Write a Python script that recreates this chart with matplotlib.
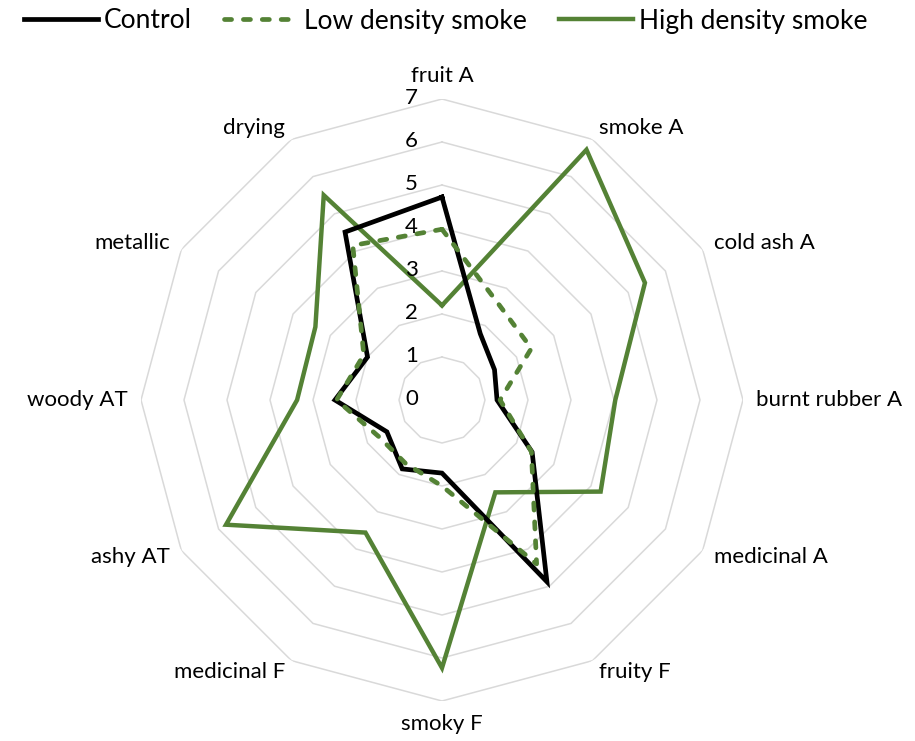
import numpy as np
import matplotlib
matplotlib.use("Agg")
import matplotlib.pyplot as plt
from matplotlib.transforms import offset_copy

plt.rcParams['font.family'] = ['Lato', 'DejaVu Sans']

categories = ["fruit A", "smoke A", "cold ash A", "burnt rubber A", "medicinal A",
              "fruity F", "smoky F", "medicinal F", "ashy AT", "woody AT",
              "metallic", "drying"]
control = [4.72, 1.78, 1.41, 1.28, 2.42, 4.88, 1.70, 1.85, 1.48, 2.49, 2.0, 4.51]
low_smoke = [3.97, 2.6, 2.4, 1.35, 2.4, 4.4, 2.0, 1.7, 1.7, 2.45, 2.1, 4.15]
high_smoke = [2.2, 6.72, 5.45, 4.03, 4.26, 2.48, 6.23, 3.56, 5.8, 3.37, 3.4, 5.5]
r_ticks = [0, 1, 2, 3, 4, 5, 6, 7]
series_names = ["Control", "Low density smoke", "High density smoke"]

W, H = 915, 741
fig = plt.figure(figsize=(W / 100, H / 100), dpi=100)
cx, cy, R = 442, 400, 301
ax = fig.add_axes([(cx - R) / W, (H - cy - R) / H, 2 * R / W, 2 * R / H], projection='polar')
ax.set_theta_zero_location('N')
ax.set_theta_direction(-1)
ax.set_ylim(0, 7)
ax.grid(False)
ax.spines['polar'].set_visible(False)
ax.set_xticks([])
ax.set_yticks([])
ax.patch.set_alpha(0)

n = len(categories)
theta = np.arange(n) * 2 * np.pi / n
theta_c = np.append(theta, theta[0])

grid_col = '#D9D9D9'
for k in r_ticks[1:]:
    ax.plot(theta_c, [k] * (n + 1), color=grid_col, lw=1.1, zorder=1)

green = '#548235'
def closed(v):
    return list(v) + [v[0]]

l1, = ax.plot(theta_c, closed(control), color='black', lw=3.4, zorder=4,
              solid_joinstyle='miter', label=series_names[0])
l2, = ax.plot(theta_c, closed(low_smoke), color=green, lw=3.4, zorder=5,
              linestyle=(0, (1.5, 2.5)), dash_capstyle='round', label=series_names[1])
l3, = ax.plot(theta_c, closed(high_smoke), color=green, lw=3.2, zorder=3,
              solid_joinstyle='miter', label=series_names[2])

# radial tick labels
tr = offset_copy(ax.transData, fig=fig, x=-24, y=1, units='dots')
for k in r_ticks:
    ax.text(0, k, str(k), transform=tr, ha='right', va='center', fontsize=16,
            color='#000000', zorder=6)

# category labels
for t, lab in zip(theta, categories):
    s = np.sin(t)
    c = np.cos(t)
    if abs(s) < 1e-6:
        ha = 'center'
        va = 'bottom' if c > 0 else 'top'
    else:
        ha = 'left' if s > 0 else 'right'
        va = 'center'
    ax.text(t, 7.3, lab, ha=ha, va=va, fontsize=16, color='black', clip_on=False)

fig.legend(handles=[l1, l2, l3], loc='center', bbox_to_anchor=(0.487, 1 - 21 / H),
           ncol=3, frameon=False, fontsize=19, handlelength=2.8, handletextpad=0.2,
           columnspacing=1.25, borderaxespad=0)

fig.savefig('out.png', dpi=100)
